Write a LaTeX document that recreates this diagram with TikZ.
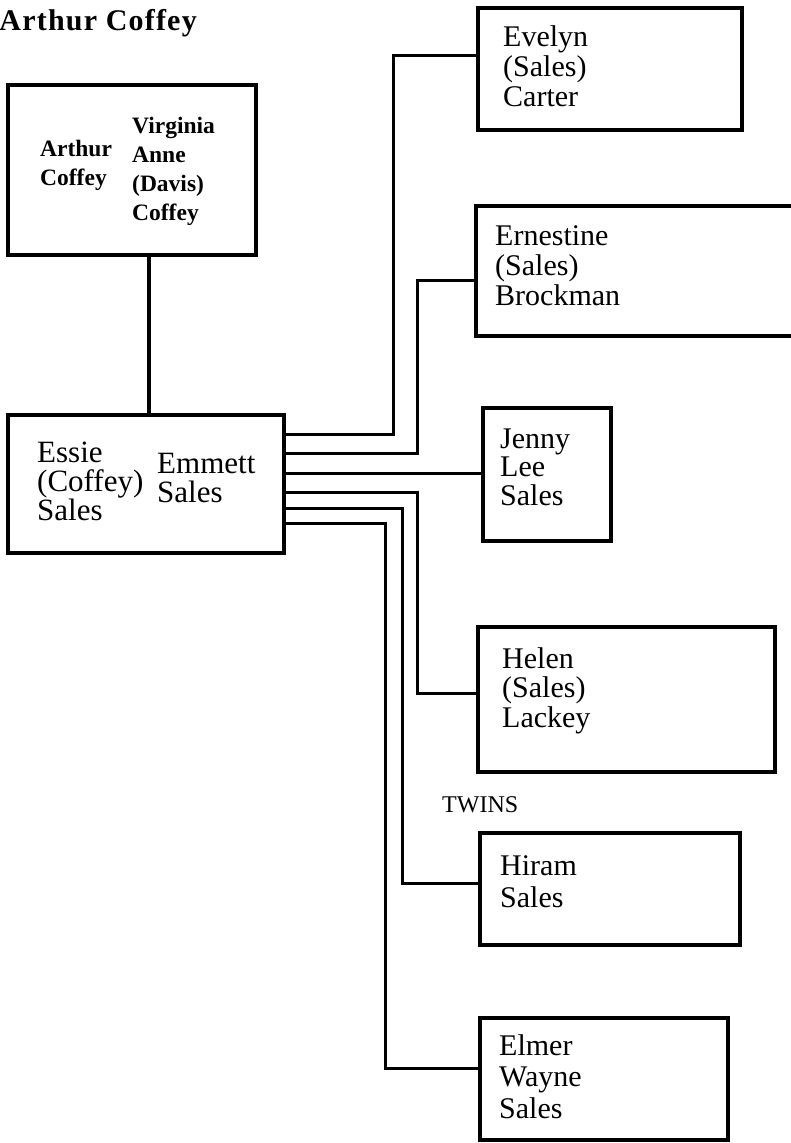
\documentclass[tikz,border=0pt]{standalone}
\usepackage{fontspec}
\setmainfont{Liberation Serif}
\newfontfamily\titlefont[LetterSpace=4]{Liberation Serif}
\begin{document}
\begin{tikzpicture}[x=1pt,y=-1pt,
  box/.style={draw, line width=3.2pt, rectangle, inner sep=0pt, outer sep=0pt, anchor=north west},
  openbox/.style={rectangle, inner sep=0pt, outer sep=0pt, anchor=north west},
  conn/.style={line width=3pt},
  thickconn/.style={line width=4.2pt},
  lbl/.style={anchor=base west, align=left, inner sep=0pt, font=\fontsize{30}{30}\selectfont},
  toplbl/.style={anchor=base west, align=left, inner sep=0pt, font=\bfseries\fontsize{23.5}{29}\selectfont},
  midlbl/.style={anchor=base west, align=left, inner sep=0pt, font=\fontsize{31}{29}\selectfont}
]
\useasboundingbox (0,0) rectangle (790,1143);

% title
\node[anchor=base east, inner sep=0pt, font=\titlefont\bfseries\fontsize{30}{30}\selectfont] (title) at (197,30) {Arthur Coffey};

% boxes
\node[box, minimum width=248pt, minimum height=170pt] (topbox) at (8,85) {};
\node[box, line width=4.2pt, minimum width=276pt, minimum height=138pt] (essie) at (8,415) {};
\node[box, minimum width=264pt, minimum height=122pt] (evelyn) at (478,8) {};
\node[openbox, minimum width=320pt, minimum height=130pt] (ernestine) at (476,206) {};
\draw[line width=3.2pt] (ernestine.north east) -- (ernestine.north west) -- (ernestine.south west) -- (ernestine.south east);
\node[box, minimum width=128pt, minimum height=133pt] (jenny) at (483,408) {};
\node[box, minimum width=297pt, minimum height=145pt] (helen) at (478,627) {};
\node[box, minimum width=260pt, minimum height=112pt] (hiram) at (480,833) {};
\node[box, minimum width=248pt, minimum height=122pt] (elmer) at (480,1018) {};

% texts (anchored at the baseline of the last line)
\node[toplbl] (arthur) at (40,185) {Arthur\\Coffey};
\node[toplbl] (virginia) at (132,220) {Virginia\\Anne\\(Davis)\\Coffey};
\node[midlbl] (essietext) at (37,520) {Essie\\(Coffey)\\Sales};
\node[midlbl] (emmett) at (157,502) {Emmett\\Sales};
\node[lbl] (evelyntext) at (503,106) {Evelyn\\(Sales)\\Carter};
\node[lbl] (ernestinetext) at (495,305) {Ernestine\\(Sales)\\Brockman};
\node[lbl, font=\fontsize{30}{28.5}\selectfont] (jennytext) at (500,505) {Jenny\\Lee\\Sales};
\node[lbl, font=\fontsize{30}{29.5}\selectfont] (helentext) at (502,727) {Helen\\(Sales)\\Lackey};
\node[anchor=base west, inner sep=0pt, font=\fontsize{24}{26}\selectfont] (twins) at (442,812) {TWINS};
\node[lbl, font=\fontsize{30}{32}\selectfont] (hiramtext) at (500,907) {Hiram\\Sales};
\node[lbl, font=\fontsize{30}{31.5}\selectfont] (elmertext) at (499,1118) {Elmer\\Wayne\\Sales};

% connectors
\coordinate (tc) at (149,0);
\draw[thickconn] (topbox.south -| tc) -- (essie.north -| tc);

\coordinate (k1) at (393,55);
\coordinate (k2) at (417,280);
\coordinate (k4) at (417,693);
\coordinate (k5) at (402,883);
\coordinate (k6) at (385,1068);

\draw[conn] (essie.east |- 0,434) -| (k1) -- (evelyn.west |- k1);
\draw[conn] (essie.east |- 0,453) -| (k2) -- (ernestine.west |- k2);
\draw[conn] (essie.east |- 0,473) -- (jenny.west |- 0,473);
\draw[conn] (essie.east |- 0,492) -| (k4) -- (helen.west |- k4);
\draw[conn] (essie.east |- 0,508) -| (k5) -- (hiram.west |- k5);
\draw[conn] (essie.east |- 0,523) -| (k6) -- (elmer.west |- k6);
\end{tikzpicture}
\end{document}
